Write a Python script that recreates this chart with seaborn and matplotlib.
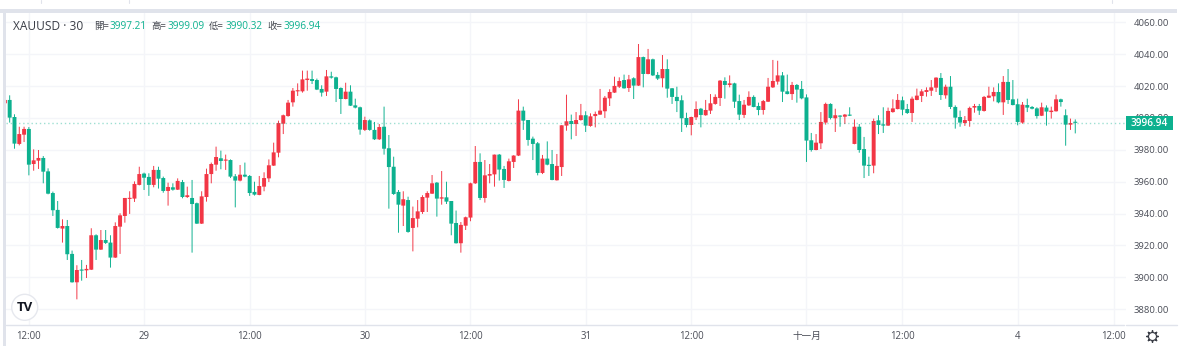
import numpy as np
import pandas as pd
import seaborn as sns
import matplotlib.pyplot as plt
from matplotlib.patches import Circle, Rectangle

# XAUUSD 30 min candles
candle_dir = ("RGGRRGRRGG" "GGRGGRGRRG" "RGGRRRRRRG" "GRGGRGRGRG" "GRRRRGRGGR"
              "GGGRRRRRRR" "RRRRGGGRGG" "GRGGGRGGRG" "GGGRGRRRRR" "GRGGGRRRRG"
              "RRRGGRRRGG" "GGRGGRRRGR" "RGRRRRRRRG" "RGRGRGGRGG" "GGGRRGRRRR"
              "GRGGRRGGRR" "RRGGRGGGGR" "RRGRGRGRGG" "GRGGRRRGGR" "RRRRRGRGGG"
              "RRRGRRRGRG" "GGRGGGRGRR" "GGRG")

body_top = [4011.3,4011.3,4000.6,3989.9,3993.1,3993.1,3973.4,3974.9,3974.9,3966.5,
            3952.9,3942.3,3932.2,3932.2,3914.7,3904.6,3904.6,3905.3,3926.4,3926.4,
            3923.4,3923.4,3921.8,3932.2,3938.9,3949.8,3949.8,3958.6,3964.8,3965.1,
            3963.0,3967.4,3967.4,3962.3,3956.7,3956.5,3960.5,3959.8,3951.5,3949.8,
            3946.5,3950.8,3964.8,3971.1,3975.5,3974.7,3973.6,3973.6,3963.4,3964.4,
            3964.4,3963.6,3953.6,3957.3,3962.3,3970.3,3978.4,3996.8,4001.7,4009.6,
            4017.1,4017.3,4024.2,4024.7,4024.4,4023.8,4018.2,4026.1,4026.1,4025.5,
            4018.8,4016.5,4016.5,4007.9,4006.7,3998.7,3998.5,3992.5,3994.3,3994.5,
            3981.0,3969.4,3953.6,3949.0,3948.5,3937.2,3941.4,3950.4,3952.9,3959.0,
            3959.4,3950.2,3950.2,3947.9,3934.1,3932.9,3937.7,3959.0,3972.4,3972.4,
            3964.0,3964.8,3977.0,3977.0,3968.0,3972.8,3976.4,4004.6,4004.6,3998.7,
            3987.0,3984.1,3974.5,3974.5,3971.1,3969.9,3995.4,3997.9,3998.1,3998.7,
            4001.7,4001.7,4001.0,4002.5,4004.6,4012.7,4016.3,4020.1,4023.2,4023.8,
            4024.2,4024.9,4038.2,4038.2,4036.8,4036.8,4027.0,4030.7,4030.7,4018.6,
            4013.2,4011.1,4000.0,4000.6,4005.6,4005.8,4005.0,4009.2,4013.2,4023.4,
            4023.2,4021.7,4021.7,4010.6,4008.3,4013.2,4013.2,4007.5,4010.6,4019.6,
            4023.2,4026.7,4026.7,4016.7,4020.7,4020.7,4018.2,4012.9,3986.0,3984.5,
            3997.5,4008.8,4008.8,4001.7,4001.4,4002.1,4002.1,3994.5,3994.5,3980.5,
            3970.3,3998.1,3998.5,3996.0,4004.4,4006.0,4011.3,4011.1,4005.6,4012.1,
            4014.0,4016.7,4017.5,4019.2,4025.3,4025.1,4019.6,4019.6,4006.9,4000.6,
            3998.7,4006.3,4007.5,4007.5,4013.2,4014.0,4016.3,4016.3,4022.6,4022.6,
            4011.7,4008.6,4008.3,4008.1,4006.9,4006.0,4006.7,4006.5,4004.6,4011.7,
            4011.7,4001.7,3996.8,3997.21]

body_bot = [4009.2,4000.2,3983.9,3983.7,3989.5,3970.7,3971.1,3973.2,3966.3,3952.5,
            3942.1,3931.0,3930.6,3914.5,3896.9,3896.9,3904.2,3904.4,3904.8,3917.4,
            3917.4,3921.6,3912.4,3912.4,3931.8,3938.5,3949.2,3949.4,3958.0,3962.5,
            3958.0,3958.0,3961.9,3954.2,3954.2,3955.0,3955.0,3950.4,3950.4,3946.0,
            3933.7,3933.7,3950.4,3964.8,3970.7,3973.0,3973.2,3963.2,3960.7,3960.7,
            3963.2,3952.9,3951.9,3951.7,3956.9,3962.1,3970.1,3978.2,3996.4,4001.2,
            4009.8,4016.7,4016.7,4023.8,4023.2,4017.8,4015.9,4016.5,4025.3,4018.2,
            4011.9,4011.9,4007.7,4006.5,3992.7,3992.5,3992.5,3986.6,3986.6,3980.7,
            3969.2,3952.3,3945.6,3945.0,3928.5,3931.0,3936.8,3941.0,3950.0,3952.5,
            3949.4,3949.4,3947.5,3933.7,3921.4,3921.4,3932.4,3937.5,3959.0,3949.8,
            3949.8,3963.8,3964.6,3967.6,3961.1,3960.5,3972.4,3976.4,3998.3,3986.2,
            3983.7,3965.5,3965.5,3970.7,3961.1,3960.9,3969.2,3995.2,3996.2,3996.2,
            3998.7,3995.2,3995.0,4001.2,4002.1,4004.2,4012.3,4015.9,4019.6,4018.6,
            4018.8,4020.3,4020.3,4027.6,4027.6,4026.7,4024.7,4024.9,4018.4,4013.2,
            4010.6,3999.8,3995.6,3995.6,4000.4,4001.9,4001.7,4004.6,4008.8,4012.5,
            4020.7,4020.7,4010.2,4002.1,4001.9,4007.9,4006.9,4005.0,4005.0,4010.2,
            4019.2,4022.8,4016.5,4015.0,4015.0,4017.8,4012.3,3985.8,3979.9,3979.9,
            3984.1,3997.1,4000.0,3999.8,4000.8,4000.8,4001.4,3983.7,3979.9,3970.1,
            3969.9,3970.1,3995.6,3995.2,3995.2,4003.7,4005.6,4005.2,4003.1,4003.1,
            4011.3,4013.8,4016.3,4017.1,4019.0,4014.4,4014.2,4006.9,4000.2,3997.1,
            3996.8,3998.1,4006.5,4004.6,4004.4,4012.7,4013.6,4009.8,4009.8,4011.3,
            4008.1,3997.5,3997.1,4006.5,4005.8,4001.2,4001.4,4004.0,4003.7,4004.2,
            4010.0,3995.8,3995.8,3996.94]

highs = [4011.3,4014.2,4002.3,3994.5,3994.5,3994.3,3980.3,3979.9,3976.1,3968.4,
         3953.8,3947.9,3936.4,3936.0,3916.8,3907.6,3910.9,3907.8,3930.8,3927.0,
         3929.7,3929.7,3926.4,3934.5,3940.2,3949.8,3954.0,3960.2,3969.4,3965.7,
         3965.3,3969.9,3969.4,3963.2,3959.4,3959.0,3962.1,3961.1,3956.9,3961.1,
         3946.9,3954.0,3968.2,3972.0,3982.0,3979.5,3977.0,3974.0,3964.8,3970.5,
         3972.0,3964.2,3960.0,3963.6,3965.9,3974.0,3984.5,3998.3,4002.1,4011.3,
         4018.8,4021.7,4029.7,4029.7,4029.7,4024.7,4020.5,4030.1,4029.0,4025.9,
         4019.2,4022.1,4020.5,4012.1,4007.1,4000.8,3999.1,3997.5,3996.2,4007.1,
         3989.3,3975.7,3954.8,3954.0,3950.6,3944.4,3948.5,3951.5,3954.0,3964.2,
         3959.8,3966.7,3960.0,3947.9,3941.9,3934.7,3938.1,3959.4,3982.4,3977.8,
         3973.6,3971.1,3977.0,3977.4,3969.9,3974.5,3976.6,4011.7,4007.1,3998.7,
         3988.3,3984.9,3976.8,3985.3,3979.9,3977.4,3995.4,4014.6,4002.1,4003.7,
         4008.8,4004.2,4002.9,4004.0,4018.2,4013.8,4018.0,4025.9,4025.5,4027.2,
         4027.0,4025.5,4046.4,4038.5,4043.3,4037.2,4028.8,4039.5,4036.8,4018.8,
         4019.6,4014.2,4003.3,4000.8,4010.4,4006.3,4011.3,4015.0,4014.8,4023.8,
         4025.5,4026.7,4022.1,4014.6,4011.3,4016.7,4014.2,4009.6,4011.3,4025.1,
         4036.4,4035.9,4028.8,4027.2,4022.6,4021.3,4023.2,4014.8,3990.6,3989.9,
         4003.7,4009.6,4009.2,4005.8,4001.7,4002.5,4006.7,3999.1,3996.2,3988.1,
         3975.7,3999.6,4001.7,4006.7,4006.5,4011.7,4015.0,4013.4,4008.8,4013.4,
         4018.4,4018.0,4019.2,4023.8,4025.5,4028.2,4020.9,4026.3,4007.9,4004.6,
         4001.2,4007.1,4008.8,4008.8,4013.8,4019.6,4019.2,4021.7,4026.3,4030.7,
         4023.8,4012.1,4010.0,4012.1,4007.5,4006.7,4009.6,4007.9,4007.1,4014.6,
         4012.1,4005.4,3999.6,3999.09]

lows = [4009.2,3997.1,3980.7,3982.8,3984.9,3964.0,3966.9,3968.0,3959.0,3952.1,
        3938.5,3930.6,3921.8,3910.9,3896.7,3886.2,3897.9,3899.6,3904.6,3910.9,
        3917.2,3920.9,3906.1,3912.2,3914.7,3934.3,3939.8,3947.3,3957.7,3954.8,
        3951.1,3956.5,3955.7,3953.1,3945.0,3954.4,3954.8,3949.6,3949.8,3915.5,
        3933.5,3933.5,3947.5,3959.0,3966.9,3967.8,3967.4,3962.3,3943.9,3960.2,
        3962.8,3951.1,3951.3,3951.5,3954.0,3959.8,3969.9,3975.3,3989.9,4000.8,
        4007.1,4013.8,4015.9,4017.1,4021.3,4017.5,4013.4,4013.8,4024.7,4010.0,
        4002.5,4011.7,4007.5,4006.0,3989.5,3991.8,3992.0,3986.2,3986.2,3977.0,
        3943.1,3951.7,3928.0,3932.2,3928.0,3916.3,3931.4,3939.8,3941.0,3952.3,
        3938.1,3945.6,3946.0,3926.4,3921.2,3915.5,3929.7,3935.2,3958.6,3948.5,
        3946.9,3959.0,3956.9,3960.7,3956.1,3960.2,3968.6,3976.1,3992.5,3982.6,
        3973.6,3964.0,3964.8,3970.3,3960.9,3960.7,3963.6,3992.0,3986.6,3988.7,
        3998.3,3991.2,3994.5,3994.1,4001.9,4000.0,4007.5,4015.7,4018.8,4018.4,
        4016.3,4011.9,4020.1,4019.2,4027.4,4026.3,4023.8,4019.2,4012.7,4008.8,
        4003.7,3991.2,3994.1,3989.1,3998.7,3994.1,4001.4,4002.5,4008.3,4007.5,
        4012.1,4019.2,4006.3,3998.7,4000.0,4007.5,4006.7,4001.7,4002.1,4010.0,
        4018.8,4020.9,4010.0,4014.8,4011.3,4009.6,4011.7,3972.4,3978.9,3979.7,
        3980.5,3995.8,3999.1,3991.2,3994.5,3996.2,4001.2,3983.5,3978.2,3962.3,
        3963.6,3965.3,3989.9,3990.6,3995.0,4003.3,4005.4,4001.7,4002.5,3997.5,
        4011.1,4010.0,4013.4,4013.8,4016.3,4011.3,4012.1,4005.6,3993.3,3994.5,
        3995.0,3994.5,4003.3,4001.9,4004.0,4012.5,4010.4,4009.2,4001.9,4008.8,
        4007.9,3995.4,3996.4,4003.7,4005.4,3999.6,4001.2,3995.2,3999.6,4004.0,
        4007.1,3982.6,3992.5,3990.32]

price_ticks = list(range(3880, 4061, 20))
time_tick_bars = [5, 29, 51, 75, 97, 121, 143, 167, 187, 211, 231]
time_tick_labels = ['12:00', '29', '12:00', '30', '12:00', '31', '12:00', '十一月', '12:00', '4', '12:00']
last_price = 3996.94
ohlc_names = ['開', '高', '低', '收']
ohlc_values = ['3997.21', '3999.09', '3990.32', '3996.94']

UP = '#f23645'
DOWN = '#0db18f'
GRID = '#f4f5f9'
BAND = '#e0e3eb'
TEXT = '#4a4d57'

W, H = 1185, 359

sns.set_theme(style='white')
plt.rcParams['font.family'] = ['Open Sans', 'Noto Sans CJK TC', 'DejaVu Sans']

df = pd.DataFrame({'bar': np.arange(len(body_top)), 'dir': list(candle_dir),
                   'top': body_top, 'bot': body_bot, 'high': highs, 'low': lows})
df['body'] = (df['top'] - df['bot']).clip(lower=0.7)
df['wick'] = df['high'] - df['low']

fig = plt.figure(figsize=(W / 100, H / 100), dpi=100)
ax = fig.add_axes([6 / W, (H - 325) / H, 1120 / W, 312 / H])
ax.set_axisbelow(True)

# wicks and bodies are floating bars
for d, col in [('R', UP), ('G', DOWN)]:
    sub = df[df['dir'] == d]
    sns.barplot(data=sub, x='bar', y='wick', bottom=sub['low'].values, native_scale=True,
                color=col, saturation=1, width=0.2, errorbar=None, linewidth=0, snap=False, ax=ax)
    sns.barplot(data=sub, x='bar', y='body', bottom=sub['bot'].values, native_scale=True,
                color=col, saturation=1, width=0.82, errorbar=None, linewidth=0, snap=False, ax=ax)

ax.axhline(last_price, color=DOWN, lw=1.0, ls=(0, (1, 2)), alpha=0.4, zorder=1)

ax.set_xlim(0.235, 233.57)
ax.set_ylim(3870.1, 4065.85)
ax.set_xlabel('')
ax.set_ylabel('')
ax.set_xticks(time_tick_bars, time_tick_labels)
ax.set_yticks(price_ticks, [f'{p:.2f}' for p in price_ticks])
ax.yaxis.tick_right()
ax.grid(True, color=GRID, lw=1)
ax.tick_params(axis='x', length=0, pad=4, labelsize=6.9, labelcolor=TEXT)
ax.tick_params(axis='y', length=0, pad=5.8, labelsize=6.8, labelcolor=TEXT)
sns.despine(ax=ax, left=True, right=True, top=True, bottom=True)

# page furniture, in pixel coordinates
over = fig.add_axes([0, 0, 1, 1], facecolor='none')
over.set_xlim(0, W)
over.set_ylim(H, 0)
over.axis('off')
over.add_patch(Rectangle((0, 9), 1177, 4, color=BAND, lw=0))
over.add_patch(Rectangle((3, 13), 3, 333, color=BAND, lw=0))
over.plot([6, 1124], [325, 325], color=BAND, lw=1)
over.plot([1126, 1177], [325, 325], color=BAND, lw=1)
for x in [41, 129, 1112]:
    over.plot([x, x], [0, 3], color=BAND, lw=0.8)

over.text(13, 26, 'XAUUSD · 30', fontsize=8.6, color='#3a3d46', va='center', ha='left')
for name, val, xn in zip(ohlc_names, ohlc_values, [94, 151, 209, 267]):
    over.text(xn, 26.5, name + '=', fontsize=6.8, color='#44474f', va='center', ha='left',
              family=['Noto Sans CJK TC', 'DejaVu Sans'])
    over.text(xn + 16, 26.5, val, fontsize=7.2, color=DOWN, va='center', ha='left')

# last price tag
over.add_patch(Rectangle((1126, 116), 47, 14, color=DOWN, lw=0, zorder=5))
over.text(1149.5, 123, f'{last_price:.2f}', color='white', fontsize=7.2, ha='center', va='center',
          fontweight='semibold', zorder=6)

# TradingView badge
over.add_patch(Circle((24.7, 307.3), 13, facecolor='white', edgecolor='#e6e8ee', lw=1, zorder=5))
over.text(24.7, 307.5, 'TV', color='#131722', fontsize=9.5, fontweight='bold', ha='center', va='center', zorder=6)

# settings gear
over.scatter([1152], [336], marker=(8, 2, 0), s=70, color='#3a3d46', lw=1.0, zorder=5)
over.scatter([1152], [336], marker='o', s=34, facecolor='white', edgecolor='#3a3d46', lw=0.9, zorder=6)

fig.savefig('out.png', dpi=100, facecolor='white')
